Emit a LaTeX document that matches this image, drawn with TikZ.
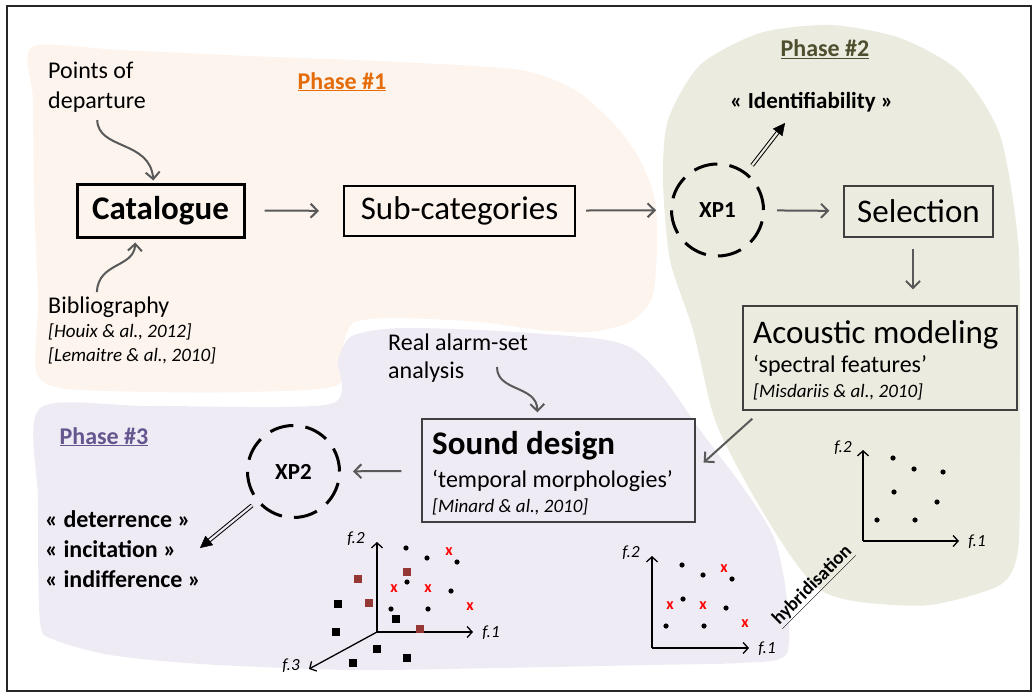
\documentclass[tikz,border=0pt]{standalone}
\usepackage{fontspec}
\setmainfont{Carlito}
\usetikzlibrary{arrows.meta,calc}
\definecolor{peach}{HTML}{FCF4ED}
\definecolor{sage}{HTML}{EBEBE0}
\definecolor{lav}{HTML}{EFEBF4}
\definecolor{conn}{HTML}{595959}
\definecolor{boxline}{HTML}{404040}
\definecolor{ph1}{HTML}{E46C0A}
\definecolor{ph2}{HTML}{4F4F2F}
\definecolor{ph3}{HTML}{66568F}
\definecolor{brownsq}{HTML}{953735}
\newcommand{\fs}[1]{\fontsize{#1}{#1}\selectfont}
\begin{document}
\begin{tikzpicture}[x=1pt,y=-1pt,
  conn/.style={draw=conn, line width=2pt, -{Straight Barb[length=7pt,width=14pt]}},
  axis/.style={draw=black, line width=1.3pt, -{Straight Barb[length=5pt,width=11pt]}},
  txt/.style={inner sep=0pt, anchor=base west},
  thickbox/.style={draw=black, line width=3pt, inner sep=0pt},
  midbox/.style={draw=black, line width=2pt, inner sep=0pt},
  thinbox/.style={draw=boxline, line width=1.3pt, inner sep=0pt},
  xpcirc/.style={circle, draw=black, line width=3pt, dash pattern=on 24pt off 12.2pt, minimum size=92pt, inner sep=0pt, font=\fs{23}\bfseries},
  dblline/.style={draw=black, line width=1pt, double distance=2.2pt},
  dbltip/.style={draw=black, fill=black, line width=0.5pt, -{Triangle[length=12pt,width=12pt]}},
  phase/.style={inner sep=0pt, anchor=base, font=\fs{24}\bfseries},
  flab/.style={inner sep=0pt, font=\fs{17}\itshape},
  xm/.style={inner sep=0pt, text=red, font=\fs{16}\bfseries},
]
\useasboundingbox (0,0) rectangle (1034,693);
% background blobs
\fill[peach] plot[smooth cycle, tension=0.45] coordinates {(32,47) (120,50) (250,56) (400,62) (520,70) (575,90) (615,125) (640,160) (655,200) (657,250) (652,298) (630,322) (590,332) (540,330) (480,322) (400,318) (355,322) (343,345) (338,385) (250,392) (150,392) (60,388) (36,370) (38,300) (34,200) (33,100)};
\fill[lav] plot[smooth cycle, tension=0.45] coordinates {(40,408) (150,406) (330,404) (338,360) (352,336) (400,328) (500,331) (600,339) (635,350) (665,380) (700,430) (745,490) (775,540) (787,600) (786,655) (740,663) (650,665) (500,668) (350,670) (200,664) (110,655) (55,640) (40,622) (38,500)};
\fill[sage] plot[smooth cycle, tension=0.45] coordinates {(663,180) (668,120) (700,65) (760,33) (830,25) (900,38) (960,72) (1000,135) (1018,240) (1020,340) (1020,450) (1018,550) (1000,585) (930,605) (860,602) (820,590) (790,555) (750,490) (715,420) (693,330) (670,260)};
% frame
\draw[line width=1.5pt, draw=black!85] (7,6) rectangle (1031,691);

% phase titles
\node[phase, text=ph1] (ph1) at (342,89) {\underline{Phase \#1}};
\node[phase, text=ph2] (ph2) at (825,57) {\underline{Phase \#2}};
\node[phase, text=ph3] (ph3) at (104,444) {\underline{Phase \#3}};

% phase 1
\node[txt, font=\fs{24}] (pod1) at (48,78) {Points of};
\node[txt, font=\fs{24}] (pod2) at (48,108) {departure};
\node[thickbox, minimum width=167pt, minimum height=53pt, font=\fs{33}\bfseries] (cat) at (160.5,210.5) {Catalogue};
\node[txt, font=\fs{24}] (bib) at (48,313) {Bibliography};
\node[txt, font=\fs{19}\itshape] (ref1) at (48,337) {[Houix \& al., 2012]};
\node[txt, font=\fs{19}\itshape] (ref2) at (48,361) {[Lemaitre \& al., 2010]};
\node[midbox, minimum width=231pt, minimum height=50pt, font=\fs{33}] (sub) at (459.5,211) {Sub-categories};

% phase 2
\node[xpcirc] (xp1) at (717.5,210) {XP1};
\node[txt, font=\fs{23}\bfseries] (ident) at (730,108) {« Identifiability »};
\coordinate (idtip) at (785,123);
\node[thinbox, draw=boxline, minimum width=149pt, minimum height=51pt, font=\fs{33}] (sel) at (918.5,211.5) {Selection};
\node[thinbox, minimum width=274pt, minimum height=104pt] (acoustic) at (880,358) {};
\node[txt, font=\fs{33}] (ac1) at (753,343) {Acoustic modeling};
\node[txt, font=\fs{24}] (ac2) at (753,372) {‘spectral features’};
\node[txt, font=\fs{19}\itshape] (ac3) at (753,397) {[Misdariis \& al., 2010]};

% phase 3
\node[txt, font=\fs{24}] (ra1) at (388,350) {Real alarm-set};
\node[txt, font=\fs{24}] (ra2) at (388,378) {analysis};
\coordinate (rastart) at (497,367);
\node[thinbox, minimum width=273pt, minimum height=103pt] (sound) at (558.5,470.5) {};
\node[txt, font=\fs{33}\bfseries] (sd1) at (432,454) {Sound design};
\node[txt, font=\fs{24}] (sd2) at (432,487) {‘temporal morphologies’};
\node[txt, font=\fs{19}\itshape] (sd3) at (432,512) {[Minard \& al., 2010]};
\node[xpcirc] (xp2) at (293.5,471.5) {XP2};
\coordinate (dettip) at (200,548);
\node[txt, font=\fs{24}\bfseries] (det) at (45,527) {« deterrence »};
\node[txt, font=\fs{24}\bfseries] (inc) at (45,557) {« incitation »};
\node[txt, font=\fs{24}\bfseries] (ind) at (45,587) {« indifference »};

% connectors
\draw[conn, shorten <=19pt, shorten >=24pt] (cat) -- (sub);
\draw[conn, shorten <=10pt, shorten >=14pt] (sub) -- (xp1);
\draw[conn, shorten <=12pt, shorten >=14pt] (xp1) -- (sel);
\draw[conn, shorten <=11pt, shorten >=16pt] ([xshift=-5.5pt]sel.south) -- ([xshift=-5.5pt]sel.south |- acoustic.north);
\draw[conn] ([xshift=10pt,yshift=-8pt]acoustic.south west) -- ([xshift=8pt,yshift=8pt]sound.east);
\draw[conn, shorten <=20pt, shorten >=12pt] (sound) -- (xp2);
\draw[conn, shorten <=8pt, shorten >=2pt] (pod2.south) .. controls (98,150) and (150,140) .. ([xshift=-7pt]cat.north);
\draw[conn, shorten <=4pt, shorten >=4pt] ([xshift=-12pt]bib.north) .. controls (98,262) and (134,268) .. ([xshift=-25pt]cat.south);
\draw[conn, shorten >=6pt] (rastart) .. controls (497,392) and (537,385) .. ([xshift=-21pt]sound.north);
% double arrows
\draw[dblline, double=sage, shorten <=9pt, shorten >=10pt] (xp1) -- (idtip);
\draw[dbltip] ($(idtip)!12pt!(xp1.center)$) -- (idtip);
\draw[dblline, double=lav, shorten <=6pt, shorten >=10pt] (xp2) -- (dettip);
\draw[dbltip] ($(dettip)!12pt!(xp2.center)$) -- (dettip);

% 3D plot
\coordinate (o3) at (377,632);
\draw[axis] (o3) -- (377,542);
\draw[axis] (o3) -- (473,632);
\draw[axis] (o3) -- (309,669);
\node[flab] (a3f2) at (356,539) {f.2};
\node[flab] (a3f1) at (491,633) {f.1};
\node[flab] (a3f3) at (291,666) {f.3};
\foreach \x/\y in {406/548, 427/558, 457/562, 407/582, 451/591, 391/609, 428/609}
  \fill (\x,\y) circle (2.6pt);
\foreach \x/\y [count=\i] in {449/552, 394/589, 428/589, 470/607}
  \node[xm] (xa\i) at (\x,\y) {x};
\foreach \x/\y in {358/579, 407/572, 369/603, 420/629}
  \fill[brownsq] (\x-4,\y-4) rectangle (\x+4,\y+4);
\foreach \x/\y in {338/604, 396/619, 336/632, 377/649, 407/658, 353/663}
  \fill[black] (\x-4,\y-4) rectangle (\x+4,\y+4);

% middle 2D plot
\coordinate (o2) at (652,648);
\draw[axis] (o2) -- (652,556);
\draw[axis] (o2) -- (749,648);
\node[flab] (b2f2) at (631,553) {f.2};
\node[flab] (b2f1) at (767,649) {f.1};
\foreach \x/\y in {682/565, 703/575, 732/579, 683/599, 726/608, 666/626, 704/626}
  \fill (\x,\y) circle (2.6pt);
\foreach \x/\y [count=\i] in {724/569, 670/606, 703/606, 745/624}
  \node[xm] (xb\i) at (\x,\y) {x};
\node[inner sep=0pt, rotate=45, font=\fs{19}\bfseries] (hyb) at (813,586) {\underline{hybridisation}};

% right 2D plot
\coordinate (o1) at (863,541);
\draw[axis] (o1) -- (863,450);
\draw[axis] (o1) -- (959,541);
\node[flab] (c2f2) at (843,448) {f.2};
\node[flab] (c2f1) at (977,542) {f.1};
\foreach \x/\y in {893/458, 914/469, 943/472, 894/492, 937/502, 877/520, 915/520}
  \fill (\x,\y) circle (2.6pt);
\end{tikzpicture}
\end{document}
